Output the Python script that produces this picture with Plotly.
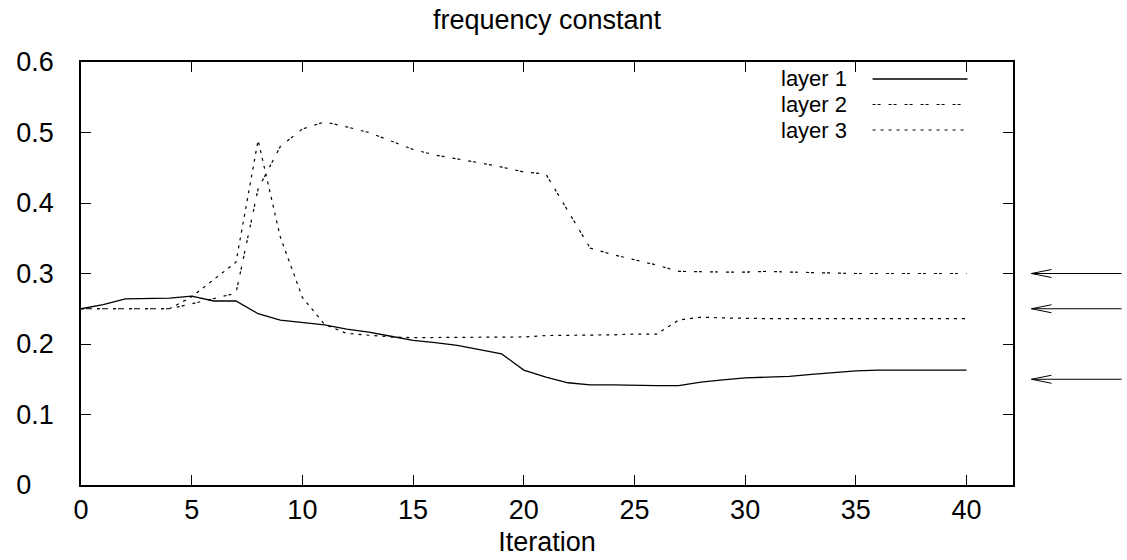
import plotly.graph_objects as go

# ---------------- data ----------------
iterations = list(range(0, 41))

layer1 = [0.250, 0.256, 0.264, 0.265, 0.265, 0.268, 0.261, 0.261, 0.243, 0.234,
          0.230, 0.227, 0.221, 0.217, 0.211, 0.205, 0.202, 0.198, 0.192, 0.186,
          0.163, 0.153, 0.145, 0.142, 0.142, 0.141, 0.141, 0.141, 0.146, 0.149,
          0.152, 0.153, 0.154, 0.157, 0.160, 0.162, 0.163, 0.163, 0.163, 0.163,
          0.163]

layer2 = [0.250, 0.250, 0.250, 0.250, 0.250, 0.257, 0.264, 0.272, 0.420, 0.480,
          0.505, 0.515, 0.508, 0.500, 0.488, 0.476, 0.468, 0.463, 0.457, 0.451,
          0.444, 0.441, 0.388, 0.336, 0.327, 0.320, 0.312, 0.303, 0.302, 0.302,
          0.302, 0.303, 0.302, 0.301, 0.300, 0.300, 0.300, 0.300, 0.300, 0.300,
          0.300]

layer3 = [0.250, 0.250, 0.250, 0.250, 0.250, 0.267, 0.292, 0.316, 0.489, 0.352,
          0.266, 0.228, 0.215, 0.212, 0.210, 0.209, 0.209, 0.210, 0.210, 0.210,
          0.210, 0.212, 0.212, 0.212, 0.213, 0.214, 0.214, 0.234, 0.238, 0.237,
          0.236, 0.236, 0.236, 0.236, 0.236, 0.236, 0.236, 0.236, 0.236, 0.236,
          0.236]

series_names = ["layer 1", "layer 2", "layer 3"]
arrow_targets = [0.30, 0.25, 0.15]

x_tick_vals = [0, 5, 10, 15, 20, 25, 30, 35, 40]
x_tick_labels = ["0", "5", "10", "15", "20", "25", "30", "35", "40"]
y_tick_vals = [0, 0.1, 0.2, 0.3, 0.4, 0.5, 0.6]
y_tick_labels = ["0", "0.1", "0.2", "0.3", "0.4", "0.5", "0.6"]

title_text = "frequency constant"
x_title = "Iteration"

# ---------------- styles ----------------
FONT = "Liberation Sans, Arial, Helvetica, sans-serif"
FS = 27
LEG_FS = 22
W, H = 1127, 560
ML, MR, MT, MB = 81, 113.5, 62, 75
plot_w = W - ML - MR
plot_h = H - MT - MB

dashes = ["solid", "3px,2px,3px,8px", "3px,5px"]
widths = [1.3, 1.2, 1.2]

# left-aligned look for y tick labels (pad shorter labels with no-break spaces)
maxlen = max(len(s) for s in y_tick_labels)
y_tick_text = [s + "\u00a0" * (3 * (maxlen - len(s)) // 2) for s in y_tick_labels]

fig = go.Figure()
for name, ys, d, w in zip(series_names, [layer1, layer2, layer3], dashes, widths):
    fig.add_trace(go.Scatter(x=iterations, y=ys, mode="lines", name=name,
                             line=dict(color="black", width=w, dash=d),
                             showlegend=False))

# manual gnuplot-style legend (text left, sample right)
row_px = [79, 104.5, 130]
for name, d, w, py in zip(series_names, dashes, widths, row_px):
    yp = (H - MB - py) / plot_h
    fig.add_annotation(text=name, xref="paper", yref="paper",
                       x=(849 - ML) / plot_w, y=yp, xanchor="right", yanchor="middle",
                       showarrow=False, font=dict(family=FONT, size=LEG_FS, color="black"))
    fig.add_shape(type="line", xref="paper", yref="paper",
                  x0=(873 - ML) / plot_w, x1=(968 - ML) / plot_w, y0=yp, y1=yp,
                  line=dict(color="black", width=w, dash=d))

# arrows outside the plot on the right
head_paper = (1032 - ML) / plot_w
for t in arrow_targets:
    fig.add_shape(type="path", xref="paper", yref="y",
                  xsizemode="pixel", ysizemode="pixel",
                  xanchor=head_paper, yanchor=t,
                  path="M 0 0 L 90 0 M 20 -4 L 0 0 L 20 4",
                  line=dict(color="black", width=1))

axis_common = dict(showline=True, linecolor="black", linewidth=1.5, mirror="ticks",
                   ticks="inside", ticklen=10, tickwidth=1, tickcolor="black",
                   showgrid=False, zeroline=False, automargin=False,
                   tickfont=dict(family=FONT, size=FS, color="black"))

fig.update_layout(
    width=W, height=H,
    margin=dict(l=ML, r=MR, t=MT, b=MB, autoexpand=False),
    paper_bgcolor="white", plot_bgcolor="white",
    font=dict(family=FONT, size=FS, color="black"),
    title=dict(text=title_text, x=0.5, xref="paper", xanchor="center",
               y=1 - 20 / H, yref="container", yanchor="middle",
               font=dict(family=FONT, size=FS, color="black")),
    xaxis=dict(range=[0, 42.1], tickmode="array", tickvals=x_tick_vals,
               ticktext=x_tick_labels,
               title=dict(text=x_title, standoff=8,
                          font=dict(family=FONT, size=FS, color="black")),
               **axis_common),
    yaxis=dict(range=[0, 0.6], tickmode="array", tickvals=y_tick_vals,
               ticktext=y_tick_text, ticklabelstandoff=20, **axis_common),
)

fig.write_html("out.html")
